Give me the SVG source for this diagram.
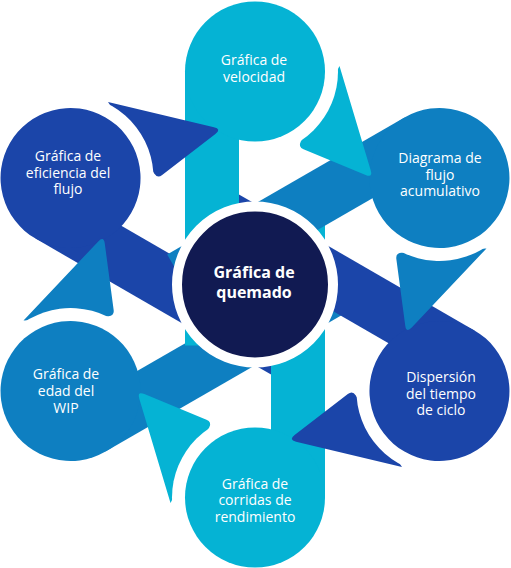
<svg xmlns="http://www.w3.org/2000/svg" width="511" height="568" viewBox="0 0 511 568">
<style>
.c1{fill:#05B3D4}.c2{fill:#0E7FC1}.c3{fill:#1B45A9}
.lbl{font-family:"Open Sans","Liberation Sans",sans-serif;font-size:14px;fill:#fff;text-anchor:middle}
.ctr{font-family:"Open Sans","Liberation Sans",sans-serif;font-size:16px;font-weight:bold;fill:#fff;text-anchor:middle}
</style>
<defs>
<rect id="band" x="185" y="71.5" width="54" height="274"/>
<circle id="disc" cx="255" cy="71.5" r="70"/>
<path id="tri" d="M339.5,66 L370.7,170.3 Q373,178 365.6,174.9 L303.5,149.3 Q298,147 300.7,141.7 Z"/>
<mask id="halo" maskUnits="userSpaceOnUse" x="-400" y="-400" width="1400" height="1400"><rect x="-400" y="-400" width="1400" height="1400" fill="#fff"/><circle cx="255" cy="71.5" r="83" fill="#000"/></mask>
</defs>
<g id="node-eficiencia">
<g class="c3" transform="rotate(300 255 284.5)"><use href="#band"/><use href="#disc"/></g>
<text class="lbl"><tspan x="68" y="161">Gráfica de</tspan><tspan x="68" y="177.5">eficiencia del</tspan><tspan x="68" y="194">flujo</tspan></text>
</g>
<g id="node-wip">
<g class="c2" transform="rotate(240 255 284.5)"><use href="#band"/><use href="#disc"/></g>
<text class="lbl"><tspan x="66" y="379">Gráfica de</tspan><tspan x="66" y="395.7">edad del</tspan><tspan x="66" y="412.5">WIP</tspan></text>
</g>
<g id="node-corridas">
<g class="c1" transform="rotate(180 255 284.5)"><use href="#band"/><use href="#disc"/></g>
<text class="lbl"><tspan x="255" y="488.5">Gráfica de</tspan><tspan x="255" y="505">corridas de</tspan><tspan x="255" y="521.5">rendimiento</tspan></text>
</g>
<g id="node-acumulativo">
<g class="c2" transform="rotate(60 255 284.5)"><use href="#band"/><use href="#disc"/></g>
<text class="lbl"><tspan x="440" y="163">Diagrama de</tspan><tspan x="440" y="179.5">flujo</tspan><tspan x="440" y="196">acumulativo</tspan></text>
</g>
<g id="node-dispersion">
<g class="c3" transform="rotate(120 255 284.5)"><use href="#band"/><use href="#disc"/></g>
<text class="lbl"><tspan x="441" y="382">Dispersión</tspan><tspan x="441" y="398.5">del tiempo</tspan><tspan x="441" y="415">de ciclo</tspan></text>
</g>
<g id="node-velocidad">
<g class="c1"><use href="#band"/><use href="#disc"/></g>
<text class="lbl"><tspan x="254" y="65">Gráfica de</tspan><tspan x="254" y="82">velocidad</tspan></text>
</g>
<g id="connectors">
<g class="c1"><use href="#tri" mask="url(#halo)"/></g>
<g class="c2" transform="rotate(60 255 284.5)"><use href="#tri" mask="url(#halo)"/></g>
<g class="c3" transform="rotate(120 255 284.5)"><use href="#tri" mask="url(#halo)"/></g>
<g class="c1" transform="rotate(180 255 284.5)"><use href="#tri" mask="url(#halo)"/></g>
<g class="c2" transform="rotate(240 255 284.5)"><use href="#tri" mask="url(#halo)"/></g>
<g class="c3" transform="rotate(300 255 284.5)"><use href="#tri" mask="url(#halo)"/></g>
</g>
<g id="node-quemado">
<circle cx="255" cy="284.5" r="78" fill="#111A52" stroke="#fff" stroke-width="10"/>
<text class="ctr"><tspan x="254" y="277.5">Gráfica de</tspan><tspan x="254" y="297.5">quemado</tspan></text>
</g>
</svg>
